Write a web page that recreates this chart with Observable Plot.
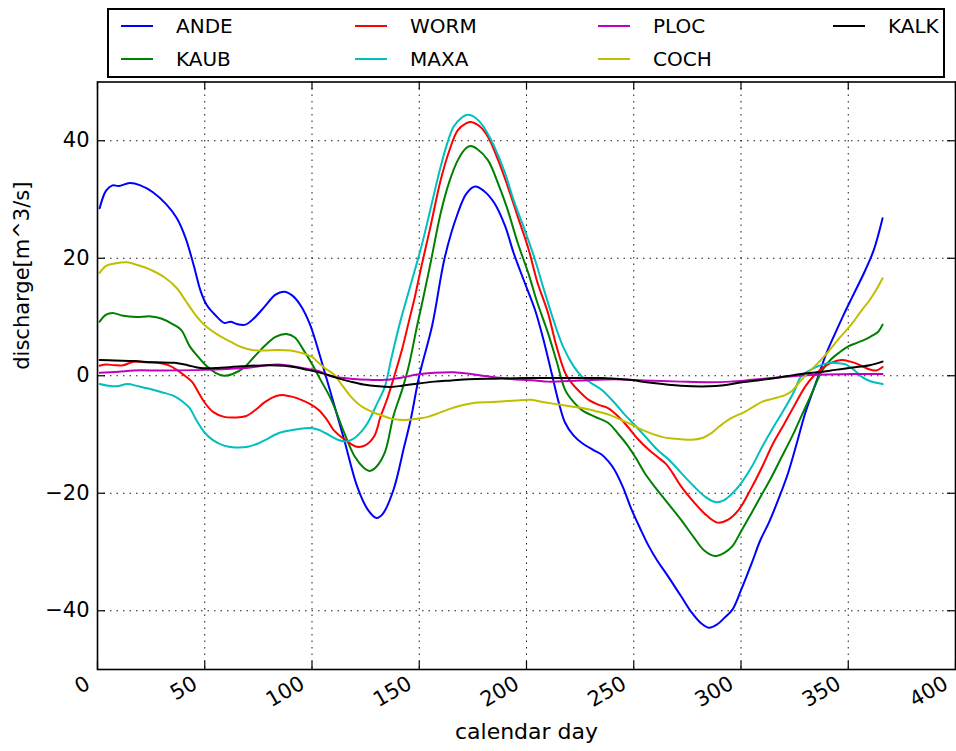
<!DOCTYPE html>
<html><head><meta charset="utf-8">
<script src="https://cdn.jsdelivr.net/npm/d3@7"></script>
<script src="https://cdn.jsdelivr.net/npm/@observablehq/plot@0.6"></script>
<style>
body{margin:0;background:#fff;font-family:"DejaVu Sans",sans-serif;}
#wrap{width:956px;}
#legend{position:relative;height:80px;}
#legendBox{position:absolute;left:107px;top:8px;width:834px;height:66px;border:2px solid #000;}
.item{position:absolute;height:24px;width:200px;font-size:20px;line-height:24px;color:#000;}
.swatch{position:absolute;left:0;top:11px;width:32px;height:0;border-top:2px solid;}
.lab{position:absolute;left:55px;top:0;white-space:nowrap;}
svg{display:block;}
</style></head>
<body>
<div id="wrap"><div id="legend"><div id="legendBox"></div></div><div id="chart"></div></div>
<script>
// ---- data ----
const seriesNames = ["ANDE","KAUB","WORM","MAXA","PLOC","COCH","KALK"];
const seriesColors = ["#0000ff","#008000","#ff0000","#00bfbf","#bf00bf","#bfbf00","#000000"];

const andeDay = [1,4,7,10,15,20,26,32,37,41,45,48,51,55,59,62,65,69,73,78,83,87,91,95,99,102,106,110,115,121,126,130,133,138,143,146,150,156,162,168,172,176,180,185,190,194,199,204,208,212,215,218,222,226,231,235,238,241,245,249,253,257,261,265,272,277,281,285,289,292,296,300,305,309,313,318,322,326,330,336,340,344,348,352,358,362,366];
const andeQ = [28.5,31.5,32.4,32.3,32.8,32.4,31.2,29.2,26.8,23.5,18.6,14.5,12,10.3,9.0,9.2,8.8,8.7,9.8,11.8,13.8,14.3,13.6,11.8,8.8,5.5,0.5,-4.5,-10.9,-18.8,-22.8,-24.2,-23.5,-19.4,-12,-7.5,0,8.5,20.3,27.7,31,32.2,31.5,29.4,25.5,20.9,16,11.2,6,0,-4.5,-8,-10.2,-11.5,-12.6,-13.4,-14.5,-16,-19,-22.8,-26,-29,-31.5,-33.6,-37.5,-40.3,-42,-42.9,-42.3,-41.3,-39.8,-36.5,-31.9,-28,-25,-20.5,-16.5,-11.5,-6.3,-0.1,4,7.3,10.5,13.5,18,21.5,26.8];

const kaubDay = [1,4,7,12,18,25,30,35,39,43,47,51,55,59,63,68,73,78,83,88,92,96,100,104,109,115,120,124,127,130,134,138,142,145,149,151,155,160,164,168,172,174,177,182,187,191,196,201,205,210,214,218,222,226,232,238,243,247,251,255,260,265,272,278,283,288,292,296,300,305,310,314,319,324,328,332,335,338,342,346,350,354,358,361,364,366];
const kaubQ = [9.2,10.4,10.7,10.2,10.0,10.1,9.7,8.8,7.8,5.0,3.2,1.6,0.5,0,0.3,1.3,3.2,5.1,6.6,7.1,6.5,4.4,2,-0.7,-4.1,-9.7,-13.8,-15.6,-16.2,-15.5,-13,-6.8,-2.4,1.5,8.5,11.8,18.7,27.7,33,36.7,38.8,39.1,38.6,36.7,32.5,28.5,22.5,17.3,12.5,7.3,2.5,-2.4,-4.5,-5.9,-7,-8,-10,-11.8,-14,-16.5,-19,-21.3,-24.5,-27.5,-29.8,-30.7,-30.2,-29,-26.5,-23.3,-20,-17.4,-13.8,-10.2,-7,-3.8,-1.3,1,2.8,4,5,5.6,6.2,6.8,7.5,8.7];

const wormDay = [1,4,8,12,17,23,28,33,37,40,44,47,50,54,59,64,69,74,78,83,87,91,95,99,103,107,110,115,121,125,129,132,135,138,142,145,148,151,155,160,164,168,172,174,178,182,187,191,196,201,205,210,214,218,221,225,229,234,238,243,247,252,257,261,265,268,272,278,284,289,294,299,305,310,315,320,325,330,334,338,342,347,351,355,359,363,366];
const wormQ = [1.7,1.9,1.8,1.8,2.4,2.3,2.2,1.8,1.0,0.2,-1,-2.8,-4.6,-6.2,-7.0,-7.1,-6.9,-5.7,-4.5,-3.5,-3.3,-3.6,-4.1,-4.8,-5.8,-7.5,-9.2,-10.8,-12.1,-11.8,-10.3,-6.9,-4,-0.5,4.5,9,13.5,18.6,25,33.3,38.3,41.8,43,43.2,42.5,40.7,36.5,32.5,27,21.5,16,10.7,5,0.5,-1.2,-2.8,-4.1,-5,-5.5,-7,-8.6,-10.8,-12.6,-13.8,-15,-16.5,-18.8,-21.5,-23.8,-25,-24.5,-22.8,-19,-15.4,-11.5,-8.3,-5,-1.8,0,1.3,2.2,2.7,2.4,1.9,1.2,0.9,1.5];

const maxaDay = [1,5,9,14,19,25,30,36,40,43,46,50,54,59,64,70,75,79,83,87,93,99,103,106,112,116,119,123,126,130,134,137,141,146,151,155,160,163,166,170,172,175,178,181,185,190,194,199,204,208,213,217,222,226,230,235,241,246,251,256,261,267,272,278,283,288,292,296,299,305,310,315,320,325,328,334,338,342,346,349,353,356,360,363,366];
const maxaQ = [-1.4,-1.7,-1.8,-1.4,-1.8,-2.3,-2.8,-3.5,-4.5,-5.5,-7.5,-9.7,-11,-11.9,-12.2,-12.1,-11.5,-10.8,-10,-9.5,-9.1,-8.9,-9.2,-9.7,-10.9,-11.2,-10.8,-9.5,-8.0,-5,-1.8,3,9,15.5,22,28,35.6,39.5,42.4,44,44.4,44.2,43.3,41.8,39,34.5,29.9,25,19.7,14.8,9,5,1.6,-0.2,-1.2,-2.4,-4.6,-6.7,-8.6,-10.6,-12.6,-14.5,-16.5,-18.8,-20.5,-21.5,-21.2,-20,-18.8,-15.5,-12,-8.8,-5.8,-2.5,-0.1,1.3,1.9,2.2,2.1,1.9,0.9,-0.1,-0.9,-1.2,-1.4];

const plocDay = [1,10,17,30,50,68,84,96,103,109,118,127,134,142,149,157,166,174,182,194,204,210,225,241,255,272,285,295,305,317,328,340,352,366];
const plocQ = [0.5,0.7,0.9,0.9,1.0,1.3,1.9,1.3,0.8,-0.1,-0.5,-0.7,-0.7,-0.3,0.2,0.5,0.6,0.3,-0.1,-0.6,-0.8,-1.0,-0.8,-0.6,-0.8,-1.0,-1.1,-1.0,-0.7,-0.3,0.05,0.2,0.3,0.3];

const cochDay = [1,4,8,14,19,25,31,37,41,45,50,56,62,67,72,78,84,90,95,100,103,106,110,114,118,123,129,133,137,141,145,149,154,158,163,169,176,182,188,195,202,208,215,220,226,233,239,244,249,254,258,263,268,272,277,282,286,290,295,302,306,310,315,321,324,327,331,336,340,344,348,352,356,360,363,366];
const cochQ = [17.5,18.7,19.1,19.3,18.8,18.0,16.8,14.9,12.8,10.7,8.6,7.0,5.8,4.9,4.4,4.3,4.4,4.3,3.9,3.2,2.2,1.3,0.3,-1.6,-3.5,-5.2,-6.3,-6.8,-7.3,-7.5,-7.5,-7.3,-7.0,-6.5,-5.8,-5.1,-4.6,-4.5,-4.4,-4.2,-4.1,-4.5,-4.9,-5.2,-5.5,-6.1,-6.7,-7.5,-8.3,-9.2,-9.8,-10.4,-10.7,-10.8,-10.9,-10.6,-9.8,-8.6,-7.3,-6.1,-5.2,-4.4,-3.9,-3.2,-2.5,-1.2,0.4,2.2,3.8,5.6,7.3,9.0,11,12.9,14.6,16.6];

const kalkDay = [1,8,17,26,36,42,48,55,67,80,87,93,98,105,112,118,124,131,137,142,148,157,165,173,185,200,220,235,248,258,272,285,292,299,310,321,328,336,344,352,360,366];
const kalkQ = [2.7,2.6,2.5,2.3,2.2,1.8,1.3,1.3,1.6,1.8,1.7,1.4,1.0,0.4,-0.4,-1.0,-1.5,-1.8,-1.9,-1.7,-1.4,-1.0,-0.8,-0.6,-0.5,-0.4,-0.4,-0.4,-0.7,-1.2,-1.7,-1.8,-1.6,-1.2,-0.7,-0.1,0.3,0.6,1.0,1.4,1.8,2.4];

const xTicks = [0,50,100,150,200,250,300,350,400];
const yTicks = [-40,-20,0,20,40];
const xLabel = "calendar day";
const yLabel = "discharge[m^3/s]";

// ---- build table ----
const dayArrays = [andeDay,kaubDay,wormDay,maxaDay,plocDay,cochDay,kalkDay];
const qArrays = [andeQ,kaubQ,wormQ,maxaQ,plocQ,cochQ,kalkQ];
const series = seriesNames.map((name,i)=>({
  name, color: seriesColors[i],
  points: dayArrays[i].map((d,j)=>({day:d, q:qArrays[i][j]}))
}));

// ---- legend (matplotlib style, 4 columns, column-major) ----
const box = document.getElementById("legendBox");
const colX = [12,246,489,724], rowY = [4,36.5];
series.forEach((s,i)=>{
  const col = Math.floor(i/2), row = i%2;
  const it = document.createElement("div");
  it.className="item";
  it.style.left = colX[col]+"px"; it.style.top = rowY[row]+"px";
  it.innerHTML = `<div class="swatch" style="border-top-color:${s.color}"></div><div class="lab">${s.name}</div>`;
  box.appendChild(it);
});

// ---- chart ----
const W=956,H=671,mL=97,mR=1,mT=1.5,mB=82;
const plotH=H-mT-mB, plotW=W-mL-mR;
const minus = d => d<0 ? "\u2212"+Math.abs(d) : String(d);
const grid = {stroke:"#000", strokeWidth:1, strokeDasharray:"1.5,5", strokeOpacity:0.9};

const chart = Plot.plot({
  width:W, height:H, marginLeft:mL, marginRight:mR, marginTop:mT, marginBottom:mB,
  style:{fontFamily:"DejaVu Sans", fontSize:"21px", background:"#fff", color:"#000"},
  x:{domain:[0,400], axis:null},
  y:{domain:[-50,50], axis:null},
  marks:[
    Plot.ruleX(xTicks.slice(1,-1), grid),
    Plot.ruleY(yTicks, grid),
    ...series.map(s=>Plot.line(s.points,{x:"day", y:"q", stroke:s.color, strokeWidth:2, curve:"catmull-rom"})),
    Plot.frame({stroke:"#000", strokeWidth:1.6}),
    Plot.tickX(xTicks,{x:d=>d, insetTop:plotH-8, stroke:"#000", strokeWidth:1.2}),
    Plot.tickX(xTicks,{x:d=>d, insetBottom:plotH-8, stroke:"#000", strokeWidth:1.2}),
    Plot.tickY(yTicks,{y:d=>d, insetRight:plotW-8, stroke:"#000", strokeWidth:1.2}),
    Plot.tickY(yTicks,{y:d=>d, insetLeft:plotW-8, stroke:"#000", strokeWidth:1.2}),
    Plot.text(xTicks,{x:d=>d, frameAnchor:"bottom", text:d=>String(d), rotate:-30, textAnchor:"end", dx:-6, dy:18, fontSize:21}),
    Plot.text(yTicks,{y:d=>d, frameAnchor:"left", text:minus, textAnchor:"end", dx:-8, fontSize:21}),
    Plot.text([xLabel],{frameAnchor:"bottom", text:d=>d, dy:69, fontSize:22}),
    Plot.text([yLabel],{frameAnchor:"left", text:d=>d, rotate:-90, dx:-75, dy:-6, fontSize:21})
  ]
});
document.getElementById("chart").appendChild(chart);
</script>
</body></html>
